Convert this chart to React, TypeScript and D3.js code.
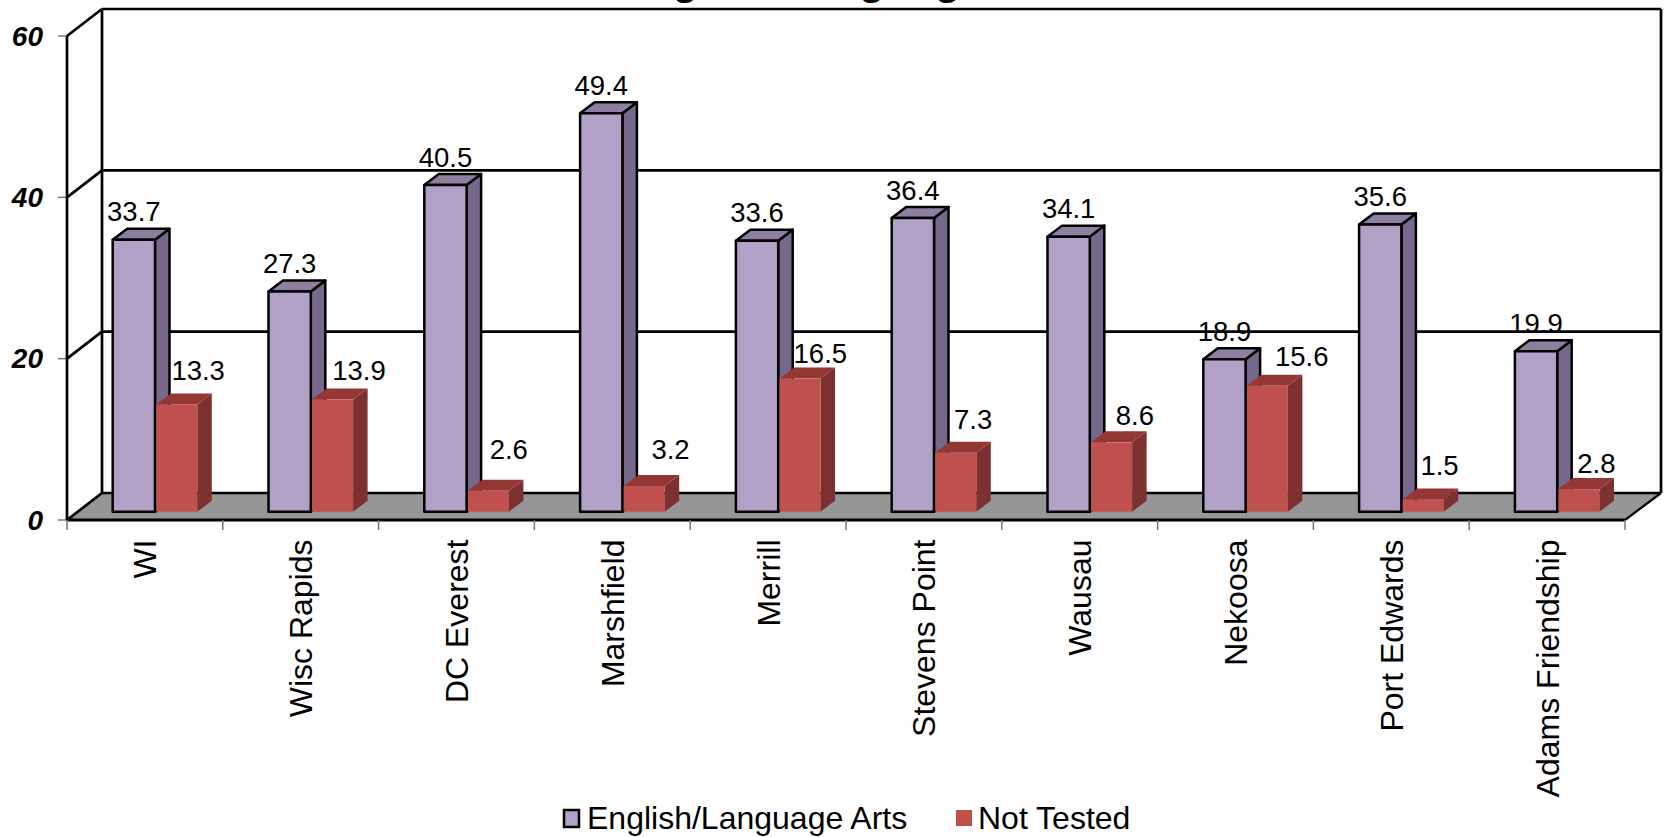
import React from "react";
import * as d3 from "d3";

const categories = ["WI", "Wisc Rapids", "DC Everest", "Marshfield", "Merrill", "Stevens Point", "Wausau", "Nekoosa", "Port Edwards", "Adams Friendship"];
const elaValues = [33.7, 27.3, 40.5, 49.4, 33.6, 36.4, 34.1, 18.9, 35.6, 19.9];
const notTestedValues = [13.3, 13.9, 2.6, 3.2, 16.5, 7.3, 8.6, 15.6, 1.5, 2.8];
const yTicks = [0, 20, 40, 60];
const titleText = "English/Language Arts";
const seriesNames = ["English/Language Arts", "Not Tested"];
// hand-placed label nudges seen in the reference
const redLabelDx = [22, 27, 21, 27, 21, 18, 24, 35, 17, 18];
const redLabelDy = [24, 20, 32, 27, 16, 24, 17, 20, 25, 16];

const W = 1665, H = 837;
const FONT = "'Liberation Sans', Arial, sans-serif";
const x = d3.scaleBand<string>().domain(categories).range([67, 1625]);
const y = d3.scaleLinear().domain([0, 60]).range([520, 36]);
const DX = 35, DY = -27;
const barInset = 45.7, barW = 42.3, barDx = 14.5, barDy = -11, floorLift = 8.3;

const pts = (p: number[][]) => p.map((q) => q.join(",")).join(" ");

function Bar({ left, width, value, face, top, side, stroke }: { left: number; width: number; value: number; face: string; top: string; side: string; stroke: string }) {
  const b = y(0) - floorLift;
  const tt = b - (y(0) - y(value));
  const r = left + width;
  const sw = stroke === "none" ? 0 : 2.5;
  return (
    <g stroke={stroke} strokeWidth={sw} strokeLinejoin="round">
      <polygon points={pts([[r, tt], [r + barDx, tt + barDy], [r + barDx, b + barDy], [r, b]])} fill={side} />
      <polygon points={pts([[left, tt], [left + barDx, tt + barDy], [r + barDx, tt + barDy], [r, tt]])} fill={top} />
      <rect x={left} y={tt} width={width} height={b - tt} fill={face} />
    </g>
  );
}

export default function App() {
  const x0 = 67, x1 = 1625;
  const xr = x1 + DX + 1;
  const base = y(0) - floorLift;
  return (
    <svg width={W} height={H} viewBox={`0 0 ${W} ${H}`} style={{ position: "absolute", left: 0, top: 0, background: "#fff" }} fontFamily={FONT}>
      <text x={618} y={-6} fontSize={42.5} fontWeight="bold" fill="#000">{titleText}</text>

      {/* floor */}
      <polygon points={pts([[x0, y(0)], [x0 + DX, y(0) + DY], [xr, y(0) + DY], [x1, y(0)]])} fill="#969696" />

      {/* walls and gridlines */}
      {yTicks.map((t) => (
        <g key={t} stroke="#000" strokeWidth={2.7} fill="none">
          <line x1={x0} y1={y(t)} x2={x0 + DX} y2={y(t) + DY} />
          <line x1={x0 + DX} y1={y(t) + DY} x2={xr} y2={y(t) + DY} />
          <line x1={x0 - 9} y1={y(t)} x2={x0} y2={y(t)} stroke="#777" strokeWidth={1.5} />
        </g>
      ))}
      <line x1={x0} y1={y(60)} x2={x0} y2={y(0)} stroke="#000" strokeWidth={2.7} />
      <line x1={x0 + DX} y1={y(60) + DY} x2={x0 + DX} y2={y(0) + DY} stroke="#000" strokeWidth={2.7} />
      <line x1={xr} y1={y(60) + DY} x2={xr} y2={y(0) + DY} stroke="#000" strokeWidth={2.7} />
      <line x1={x0} y1={y(0)} x2={x1} y2={y(0)} stroke="#000" strokeWidth={2.8} />
      <line x1={x1} y1={y(0)} x2={xr} y2={y(0) + DY} stroke="#000" strokeWidth={2.2} />

      {/* x ticks */}
      {[...categories.map((c) => x(c)!), x1].map((p, i) => (
        <line key={i} x1={p} y1={y(0)} x2={p} y2={y(0) + 10} stroke="#777" strokeWidth={1.5} />
      ))}

      {/* bars */}
      {categories.map((c, i) => {
        const l = x(c)! + barInset;
        return (
          <g key={c}>
            <Bar left={l} width={barW} value={elaValues[i]} face="#B2A1C7" top="#8C7FA0" side="#75688A" stroke="#000" />
            <Bar left={l + barW + 1.3} width={barW - 1.3} value={notTestedValues[i]} face="#C0504D" top="#943634" side="#7C3130" stroke="none" />
          </g>
        );
      })}

      {/* data labels */}
      {categories.map((c, i) => {
        const l = x(c)! + barInset;
        return (
          <g key={c} fontSize={27.5} fill="#000" textAnchor="middle">
            <text x={l + barW / 2} y={base - (y(0) - y(elaValues[i])) - 18.5}>{elaValues[i].toFixed(1)}</text>
            <text x={l + barW * 1.5 + redLabelDx[i]} y={base - (y(0) - y(notTestedValues[i])) - redLabelDy[i]}>{notTestedValues[i].toFixed(1)}</text>
          </g>
        );
      })}

      {/* y tick labels */}
      {yTicks.map((t) => (
        <text key={t} x={43} y={y(t) + 9.5} textAnchor="end" fontSize={28} fontWeight="bold" fontStyle="italic" fill="#000">{t}</text>
      ))}

      {/* category labels */}
      {categories.map((c) => (
        <text key={c} transform={`translate(${x(c)! + x.bandwidth() / 2 + 11.5},539.5) rotate(-90)`} textAnchor="end" fontSize={32} fill="#000">{c}</text>
      ))}

      {/* legend */}
      <rect x={564} y={810} width={15} height={17} fill="#B2A1C7" stroke="#000" strokeWidth={2.5} />
      <text x={587} y={829} fontSize={32} fill="#000">{seriesNames[0]}</text>
      <rect x={956} y={810} width={16} height={16} fill="#C0504D" />
      <text x={978} y={829} fontSize={32} fill="#000">{seriesNames[1]}</text>
    </svg>
  );
}
